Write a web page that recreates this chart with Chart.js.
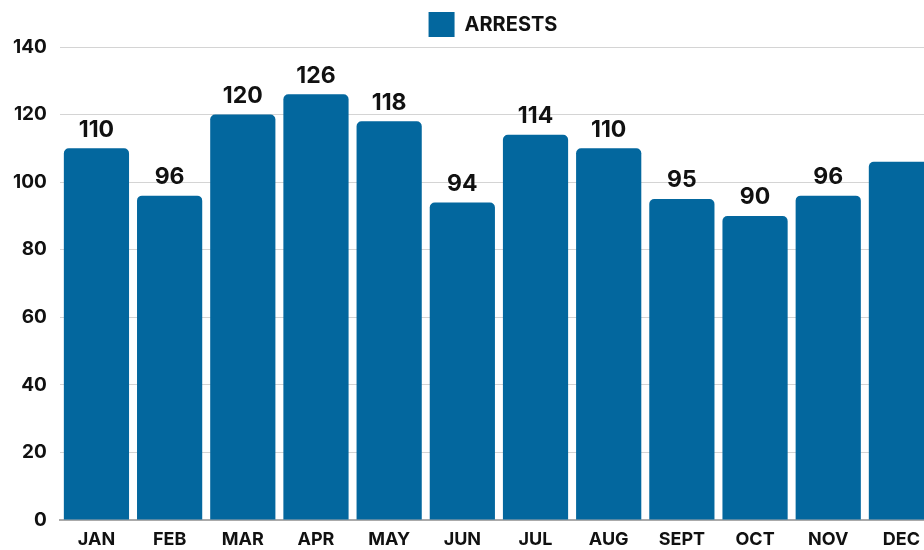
<!DOCTYPE html>
<html>
<head>
<meta charset="utf-8">
<script src="https://cdn.jsdelivr.net/npm/chart.js@4.4.0/dist/chart.umd.min.js"></script>
<style>
  html, body { margin:0; padding:0; background:#fff; overflow:hidden; }
  #wrap { width:938px; height:550px; position:relative; }
</style>
</head>
<body>
<div id="wrap"><canvas id="arrestsChart"></canvas></div>
<script>
/* ------------------ Data ------------------ */
const months = ["JAN","FEB","MAR","APR","MAY","JUN","JUL","AUG","SEPT","OCT","NOV","DEC"];
const arrests = [110,96,120,126,118,94,114,110,95,90,96,106];
const yTicks = [0,20,40,60,80,100,120,140];
const hiddenLabels = [11]; // DEC label is cut off in the original

const FONT = "Inter,'Open Sans',sans-serif";
const BLUE = "#03679e";

/* ------------------ Value labels ------------------ */
const valueLabels = {
  id: 'valueLabels',
  afterLayout(chart) {
    // legend sits a bit right of centre in the original
    chart.legend.left += 24;
    chart.legend.right += 24;
  },
  afterDatasetsDraw(chart) {
    const c = chart.ctx;
    const meta = chart.getDatasetMeta(0);
    c.save();
    c.font = "bold 23px " + FONT;
    c.fillStyle = "#111";
    c.textAlign = "center";
    c.textBaseline = "bottom";
    meta.data.forEach((bar, i) => {
      if (hiddenLabels.includes(i)) return;
      c.fillText(arrests[i], bar.x, bar.y - 7);
    });
    c.restore();
  }
};

const ctx = document.getElementById('arrestsChart').getContext('2d');
const arrestsChart = new Chart(ctx, {
  type: 'bar',
  data: {
    labels: months,
    datasets: [{
      label: "ARRESTS",
      data: arrests,
      backgroundColor: BLUE,
      borderRadius: { topLeft: 5, topRight: 5 },
      borderSkipped: false,
      categoryPercentage: 0.9,
      barPercentage: 0.99
    }]
  },
  options: {
    responsive: true,
    maintainAspectRatio: false,
    animation: false,
    layout: { padding: { top: 3, left: 0, right: 0, bottom: -10 } },
    plugins: {
      legend: {
        position: "top",
        labels: {
          boxWidth: 26, boxHeight: 25,
          color: "#111",
          font: { family: FONT, size: 20, weight: "bold" },
          padding: 9
        }
      },
      tooltip: { enabled: false }
    },
    scales: {
      x: {
        grid: { display: false, drawTicks: false },
        border: { color: "#aaa", width: 2 },
        ticks: { color: "#111", padding: 11, font: { family: FONT, size: 18, weight: "bold", lineHeight: 1 } }
      },
      y: {
        min: 0, max: 140,
        afterBuildTicks(axis) { axis.ticks = yTicks.map(v => ({ value: v })); },
        grid: { color: "#d4d4d4", drawTicks: false },
        border: { display: false },
        ticks: { color: "#111", padding: 13, font: { family: FONT, size: 19, weight: "bold" } }
      }
    }
  },
  plugins: [valueLabels]
});
</script>
</body>
</html>
